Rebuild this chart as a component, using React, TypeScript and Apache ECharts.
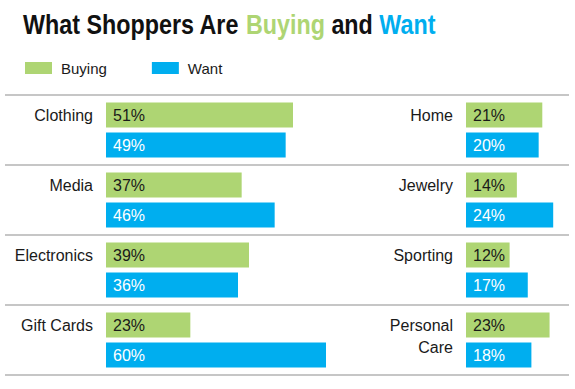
import React, { useEffect, useRef } from "react";
import * as echarts from "echarts";

const leftCategories = ["Clothing", "Media", "Electronics", "Gift Cards"];
const leftBuying = [51, 37, 39, 23];
const leftWant = [49, 46, 36, 60];

const rightCategories = ["Home", "Jewelry", "Sporting", "Personal\nCare"];
const rightBuying = [21, 14, 12, 23];
const rightWant = [20, 24, 17, 18];

const seriesNames = ["Buying", "Want"];

const GREEN = "#aed573";
const BLUE = "#00aeef";
const TEXT = "#1a1a1a";
const FONT = "'Liberation Sans', Arial, sans-serif";

export default function App() {
  const ref = useRef<HTMLDivElement>(null);

  useEffect(() => {
    document.body.style.margin = "0";
    const chart = echarts.init(ref.current!, null, { renderer: "svg" });

    const valueLabel = (color: string) => ({
      show: true,
      position: "insideLeft" as const,
      distance: 7,
      formatter: "{c}%",
      color,
      fontFamily: FONT,
      fontSize: 16,
    });

    const hiddenX = (max: number) => ({
      type: "value" as const,
      min: 0,
      max,
      show: false,
    });

    const barY = (cats: string[]) => ({
      type: "category" as const,
      data: cats,
      inverse: true,
      show: false,
    });

    const labelY = (cats: string[]) => ({
      type: "category" as const,
      data: cats,
      inverse: true,
      axisLine: { show: false },
      axisTick: { show: false },
      splitLine: { show: false },
      axisLabel: {
        margin: 13,
        fontFamily: FONT,
        fontSize: 16,
        lineHeight: 22,
        color: TEXT,
        verticalAlign: "top" as const,
      },
    });

    const titleSeg = (color: string) => ({
      fontFamily: FONT,
      fontWeight: "bold",
      fontSize: 28,
      lineHeight: 28,
      fill: color,
      color,
    });

    chart.setOption({
      animation: false,
      backgroundColor: "#ffffff",
      graphic: [
        {
          type: "text",
          x: 23,
          y: 10.5,
          scaleX: 0.833,
          style: {
            text: "{a|What Shoppers Are }{g|Buying}{a| and }{w|Want}",
            font: "bold 28px " + FONT,
            fill: "#111111",
            textVerticalAlign: "top",
            rich: {
              a: titleSeg("#111111"),
              g: titleSeg(GREEN),
              w: titleSeg(BLUE),
            },
          },
        },
      ],
      legend: {
        data: seriesNames,
        left: 25,
        top: 58,
        padding: 0,
        icon: "rect",
        itemWidth: 27,
        itemHeight: 12,
        itemGap: 45,
        textStyle: {
          fontFamily: FONT,
          fontSize: 15,
          lineHeight: 20,
          color: TEXT,
          padding: [0, 0, 0, 4],
        },
      },
      grid: [
        { left: 106, top: 95, width: 220, height: 280 },
        { left: 466, top: 95, width: 110, height: 280 },
        { left: 5, top: 95, width: 564, height: 280 },
        { left: 106, top: 69, width: 10, height: 280 },
        { left: 466, top: 69, width: 10, height: 280 },
      ],
      xAxis: [
        { gridIndex: 0, ...hiddenX(60) },
        { gridIndex: 1, ...hiddenX(30) },
        { gridIndex: 2, ...hiddenX(100) },
        { gridIndex: 3, ...hiddenX(100) },
        { gridIndex: 4, ...hiddenX(100) },
      ],
      yAxis: [
        { gridIndex: 0, ...barY(leftCategories) },
        { gridIndex: 1, ...barY(rightCategories) },
        {
          gridIndex: 2,
          type: "category",
          data: leftCategories.map(() => ""),
          axisLine: { show: false },
          axisTick: { show: false },
          axisLabel: { show: false },
          splitLine: { show: true, lineStyle: { color: "#b3b3b3", width: 1.5 } },
        },
        { gridIndex: 3, ...labelY(leftCategories) },
        { gridIndex: 4, ...labelY(rightCategories) },
      ],
      series: [
        {
          name: seriesNames[0],
          type: "bar",
          xAxisIndex: 0,
          yAxisIndex: 0,
          data: leftBuying,
          barWidth: 25,
          barGap: "20%",
          itemStyle: { color: GREEN },
          label: valueLabel(TEXT),
        },
        {
          name: seriesNames[1],
          type: "bar",
          xAxisIndex: 0,
          yAxisIndex: 0,
          data: leftWant,
          barWidth: 25,
          barGap: "20%",
          itemStyle: { color: BLUE },
          label: valueLabel("#ffffff"),
        },
        {
          name: seriesNames[0],
          type: "bar",
          xAxisIndex: 1,
          yAxisIndex: 1,
          data: rightBuying,
          barWidth: 25,
          barGap: "20%",
          itemStyle: { color: GREEN },
          label: valueLabel(TEXT),
        },
        {
          name: seriesNames[1],
          type: "bar",
          xAxisIndex: 1,
          yAxisIndex: 1,
          data: rightWant,
          barWidth: 25,
          barGap: "20%",
          itemStyle: { color: BLUE },
          label: valueLabel("#ffffff"),
        },
      ],
    });

    return () => chart.dispose();
  }, []);

  return <div ref={ref} style={{ width: 575, height: 389 }} />;
}
